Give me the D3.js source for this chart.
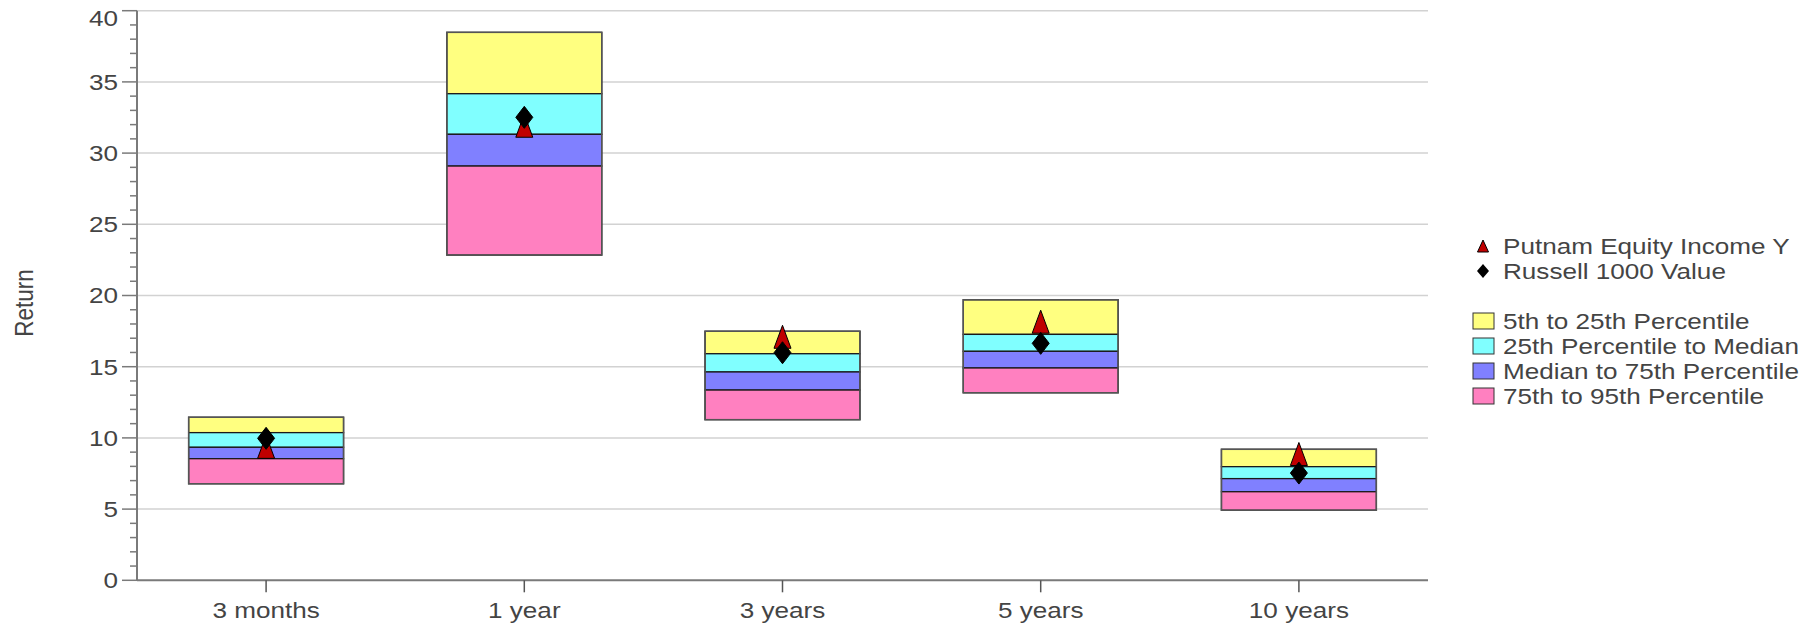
<!DOCTYPE html>
<html>
<head>
<meta charset="utf-8">
<script src="https://cdn.jsdelivr.net/npm/d3@7"></script>
<style>
  html, body { margin: 0; padding: 0; background: #fff; }
  svg { display: block; }
  text { font-family: "Liberation Sans", Arial, sans-serif; fill: #444; }
</style>
</head>
<body>
<svg id="chart" width="1820" height="624"></svg>
<script>
// ---- data ----
const categories = ["3 months", "1 year", "3 years", "5 years", "10 years"];
const p05 = [11.45, 38.48, 17.49, 19.70, 9.20];
const p25 = [10.37, 34.17, 15.91, 17.27, 7.98];
const p50 = [9.34, 31.32, 14.63, 16.08, 7.14];
const p75 = [8.54, 29.09, 13.36, 14.91, 6.22];
const p95 = [6.78, 22.84, 11.28, 13.17, 4.92];
const fundValues = [9.37, 31.92, 17.10, 18.16, 8.87];
const benchValues = [9.97, 32.51, 15.98, 16.64, 7.53];
const yTicks = [0, 5, 10, 15, 20, 25, 30, 35, 40];
const seriesNames = ["Putnam Equity Income Y", "Russell 1000 Value"];
const bandNames = ["5th to 25th Percentile", "25th Percentile to Median", "Median to 75th Percentile", "75th to 95th Percentile"];
const bandColors = ["#FFFF80", "#80FFFF", "#8080FF", "#FF80C0"];
const yLabel = "Return";

// ---- layout ----
const W = 1820, H = 624;
const plotL = 137, plotR = 1428, plotT = 10.7, plotB = 580.3;
const FS = 22.5, SX = 1.16;

const svg = d3.select("#chart");
const x = d3.scaleBand().domain(categories).range([plotL, plotR]).paddingInner(0).paddingOuter(0);
const y = d3.scaleLinear().domain([0, 40]).range([plotB, plotT]);

function stext(g, str, tx, ty, anchor, rot) {
  return g.append("text")
    .attr("transform", `translate(${tx},${ty}) scale(${SX},1)` + (rot ? ` rotate(${rot})` : ""))
    .attr("text-anchor", anchor)
    .attr("font-size", FS)
    .text(str);
}

// gridlines
svg.append("g").selectAll("line").data(yTicks.filter(d => d > 0)).join("line")
  .attr("x1", plotL).attr("x2", plotR)
  .attr("y1", d => y(d)).attr("y2", d => y(d))
  .attr("stroke", "#d2d2d2").attr("stroke-width", 1.5);

// boxes
const boxW = x.bandwidth() * 0.6;
const boxes = svg.append("g");
categories.forEach((c, i) => {
  const bx = x(c) + (x.bandwidth() - boxW) / 2;
  const edges = [p05[i], p25[i], p50[i], p75[i], p95[i]];
  for (let k = 0; k < 4; k++) {
    boxes.append("rect")
      .attr("x", bx).attr("width", boxW)
      .attr("y", y(edges[k])).attr("height", y(edges[k + 1]) - y(edges[k]))
      .attr("fill", bandColors[k]).attr("stroke", "#1a1a1a").attr("stroke-width", 1.3);
  }
  boxes.append("rect")
    .attr("x", bx).attr("width", boxW)
    .attr("y", y(p05[i])).attr("height", y(p95[i]) - y(p05[i]))
    .attr("fill", "none").attr("stroke", "#555").attr("stroke-width", 1.5);
});

// axes
const axG = svg.append("g");
axG.append("line").attr("x1", plotL).attr("x2", plotL).attr("y1", plotT).attr("y2", plotB)
  .attr("stroke", "#7a7a7a").attr("stroke-width", 2);
axG.append("line").attr("x1", plotL).attr("x2", plotR).attr("y1", plotB).attr("y2", plotB)
  .attr("stroke", "#7a7a7a").attr("stroke-width", 2);
// minor ticks
axG.selectAll(".minor").data(d3.range(0, 41, 1).filter(d => d % 5 !== 0)).join("line")
  .attr("x1", plotL - 7).attr("x2", plotL).attr("y1", d => y(d)).attr("y2", d => y(d))
  .attr("stroke", "#7a7a7a").attr("stroke-width", 1.5);
// major ticks
axG.selectAll(".major").data(yTicks).join("line")
  .attr("x1", plotL - 15).attr("x2", plotL).attr("y1", d => y(d)).attr("y2", d => y(d))
  .attr("stroke", "#7a7a7a").attr("stroke-width", 1.5);
yTicks.forEach(t => {
  stext(axG, String(t), plotL - 19, Math.max(y(t), 18), "end").attr("dominant-baseline", "central");
});
// x ticks
categories.forEach(c => {
  const cx = x(c) + x.bandwidth() / 2;
  axG.append("line").attr("x1", cx).attr("x2", cx).attr("y1", plotB).attr("y2", plotB + 12)
    .attr("stroke", "#555").attr("stroke-width", 1.5);
  stext(axG, c, cx, 618, "middle");
});
// y label
stext(axG, yLabel, 33, 303, "middle", -90);

// markers
const triW = 17, triH = 23, diaW = 17, diaH = 22;
function triPath(cx, cy, w, h) {
  return `M${cx},${cy - h / 2}L${cx + w / 2},${cy + h / 2}L${cx - w / 2},${cy + h / 2}Z`;
}
function diaPath(cx, cy, w, h) {
  return `M${cx},${cy - h / 2}L${cx + w / 2},${cy}L${cx},${cy + h / 2}L${cx - w / 2},${cy}Z`;
}
const mk = svg.append("g");
mk.selectAll(".tri").data(fundValues).join("path")
  .attr("d", (d, i) => triPath(x(categories[i]) + x.bandwidth() / 2, y(d), triW, triH))
  .attr("fill", "#C00000").attr("stroke", "#000").attr("stroke-width", 1);
mk.selectAll(".dia").data(benchValues).join("path")
  .attr("d", (d, i) => diaPath(x(categories[i]) + x.bandwidth() / 2, y(d), diaW, diaH))
  .attr("fill", "#000").attr("stroke", "#000").attr("stroke-width", 1);

// legend
const lg = svg.append("g");
const lx = 1483, tx = 1503;
const serY = [246, 271];
lg.append("path").attr("d", triPath(lx, serY[0], 11, 12)).attr("fill", "#C00000").attr("stroke", "#000").attr("stroke-width", 1);
lg.append("path").attr("d", diaPath(lx, serY[1], 12, 14)).attr("fill", "#000");
seriesNames.forEach((s, i) => stext(lg, s, tx, serY[i], "start").attr("dominant-baseline", "central"));
const bandY = [321, 346, 371, 396];
bandNames.forEach((b, i) => {
  lg.append("rect").attr("x", 1473).attr("y", bandY[i] - 8).attr("width", 21).attr("height", 16)
    .attr("fill", bandColors[i]).attr("stroke", "#333").attr("stroke-width", 1);
  stext(lg, b, tx, bandY[i], "start").attr("dominant-baseline", "central");
});
</script>
</body>
</html>
